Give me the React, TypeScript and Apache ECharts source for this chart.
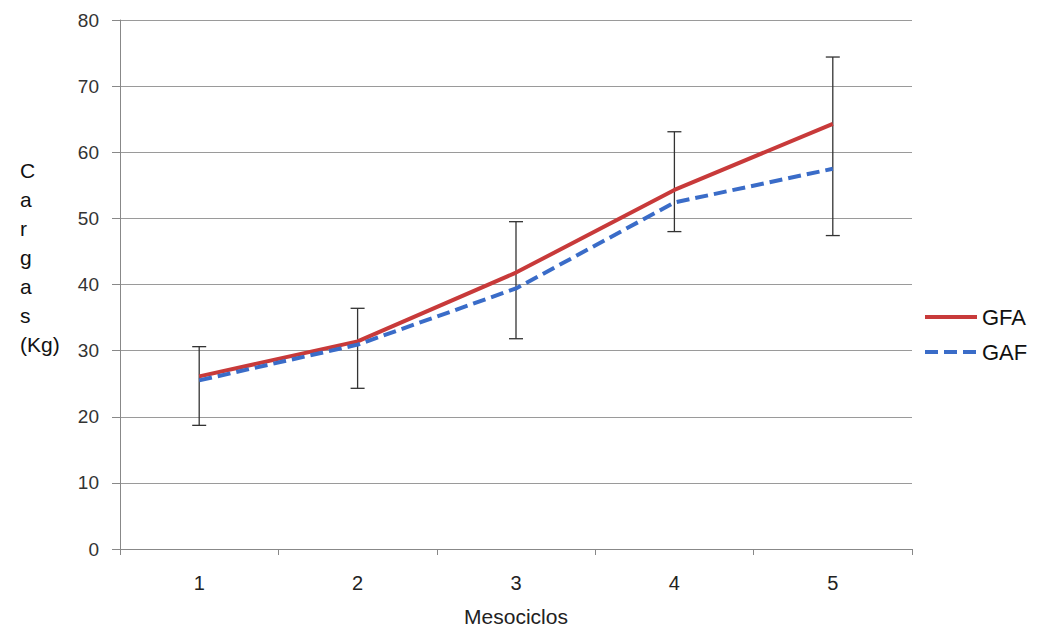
import React, { useEffect, useRef } from "react";
import * as echarts from "echarts";

const categories = ["1", "2", "3", "4", "5"];
const gfa = [26.1, 31.4, 41.8, 54.3, 64.3];
const gaf = [25.5, 30.9, 39.4, 52.4, 57.5];
const errLow = [18.7, 24.3, 31.8, 48.0, 47.4];
const errHigh = [30.6, 36.4, 49.5, 63.1, 74.4];
const yTicks = [0, 10, 20, 30, 40, 50, 60, 70, 80];

export default function App() {
  const ref = useRef<HTMLDivElement>(null);
  useEffect(() => {
    if (!ref.current) return;
    const chart = echarts.init(ref.current, null, { renderer: "svg" });
    const errData = categories.map((c, i) => [i, errLow[i], errHigh[i]]);
    chart.setOption({
      animation: false,
      backgroundColor: "#ffffff",
      grid: { left: 120, right: 127, top: 20, bottom: 70 },
      legend: {
        orient: "vertical",
        left: 918,
        top: 301,
        itemWidth: 52,
        itemHeight: 14,
        itemGap: 13,
        itemStyle: { opacity: 0 },
        lineStyle: { width: 4 },
        data: ["GFA", "GAF"],
        textStyle: { fontFamily: "Liberation Sans, Arial, sans-serif", fontSize: 22, color: "#111" },
      },
      xAxis: {
        type: "category",
        data: categories,
        boundaryGap: true,
        name: "Mesociclos",
        nameLocation: "middle",
        nameGap: 57,
        nameTextStyle: { fontFamily: "Liberation Sans, Arial, sans-serif", fontSize: 21, color: "#222" },
        axisLine: { lineStyle: { color: "#888", width: 1 } },
        axisTick: { show: true, length: 6, lineStyle: { color: "#888" }, alignWithLabel: false },
        axisLabel: { margin: 24, fontFamily: "Liberation Sans Narrow, Liberation Sans, Arial, sans-serif", fontSize: 20, color: "#222" },
        splitLine: { show: false },
      },
      yAxis: {
        type: "value",
        min: 0,
        max: 80,
        interval: 10,
        axisLine: { show: true, lineStyle: { color: "#888", width: 1 } },
        axisTick: { show: true, length: 8, lineStyle: { color: "#888" } },
        axisLabel: {
          margin: 21,
          fontFamily: "Liberation Sans, Arial, sans-serif",
          fontSize: 19,
          color: "#333",
          formatter: (v: number) => (yTicks.includes(v) ? String(v) : ""),
        },
        splitLine: { show: true, lineStyle: { color: "#9a9a9a", width: 1 } },
      },
      graphic: [
        {
          type: "text",
          left: 20,
          top: 156,
          style: {
            text: "C\na\nr\ng\na\ns\n(Kg)",
            fontFamily: "Liberation Sans, Arial, sans-serif",
            fontSize: 21,
            lineHeight: 29,
            fill: "#111",
            align: "center",
          },
          x: 18,
        },
      ],
      series: [
        {
          name: "errors",
          type: "custom",
          data: errData,
          z: 1,
          renderItem: (params: any, api: any) => {
            const x = api.coord([api.value(0), api.value(1)])[0];
            const lo = api.coord([api.value(0), api.value(1)])[1];
            const hi = api.coord([api.value(0), api.value(2)])[1];
            const w = 7;
            const st = { stroke: "#333", lineWidth: 1.3 };
            return {
              type: "group",
              children: [
                { type: "line", shape: { x1: x, y1: lo, x2: x, y2: hi }, style: st },
                { type: "line", shape: { x1: x - w, y1: lo, x2: x + w, y2: lo }, style: st },
                { type: "line", shape: { x1: x - w, y1: hi, x2: x + w, y2: hi }, style: st },
              ],
            };
          },
        },
        {
          name: "GFA",
          type: "line",
          data: gfa,
          z: 3,
          symbol: "none",
          lineStyle: { color: "#C83A3A", width: 4 },
          itemStyle: { color: "#C83A3A" },
        },
        {
          name: "GAF",
          type: "line",
          data: gaf,
          z: 4,
          symbol: "none",
          lineStyle: { color: "#3A6CC8", width: 4, type: [13, 6], cap: "butt" },
          itemStyle: { color: "#3A6CC8" },
        },
      ],
    });
    return () => chart.dispose();
  }, []);
  return (
    <div
      ref={ref}
      style={{ position: "fixed", left: 0, top: 0, width: 1039, height: 632 }}
    />
  );
}
